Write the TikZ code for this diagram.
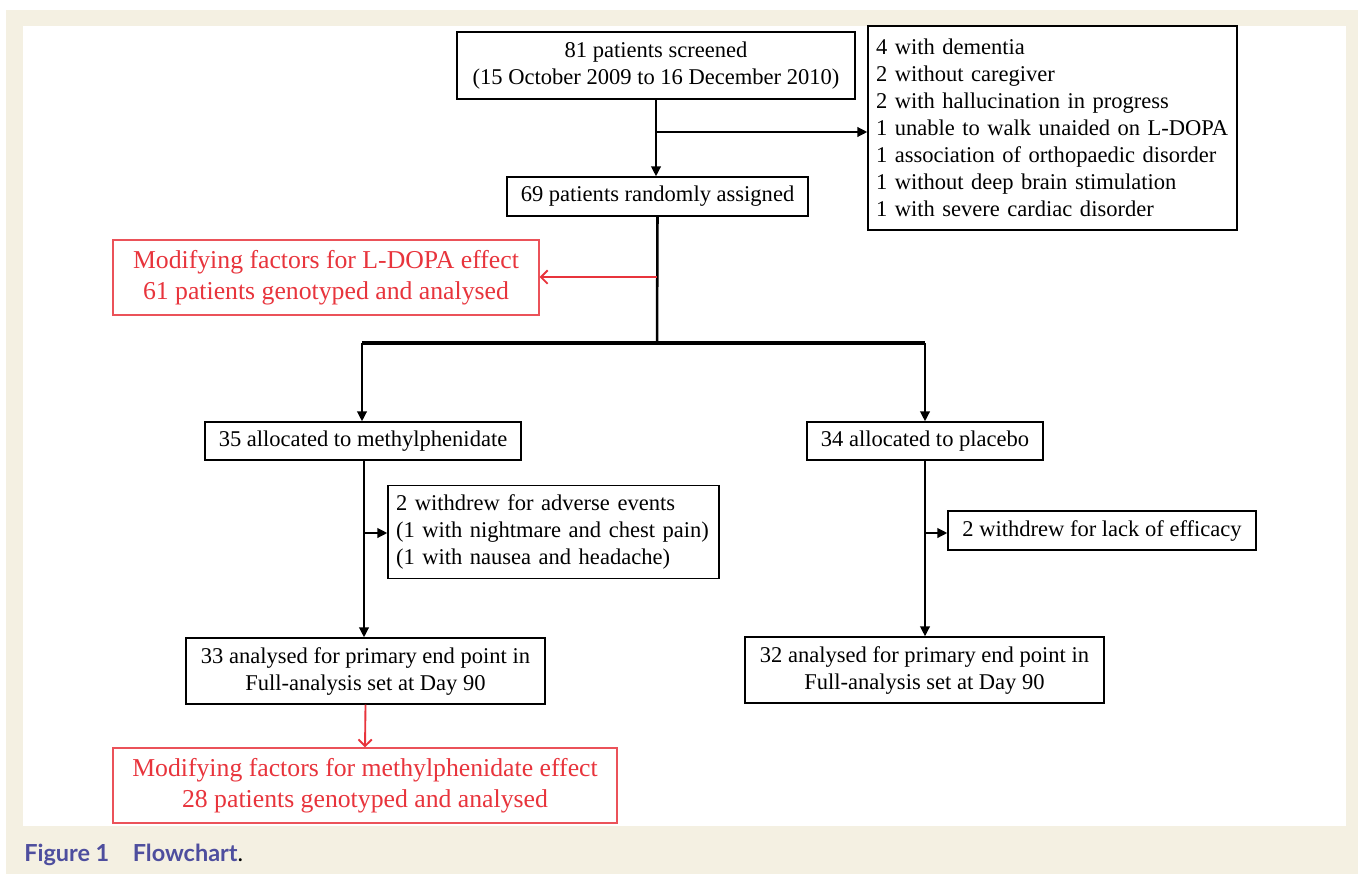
\documentclass[tikz,border=0pt]{standalone}
\usepackage{fontspec}
\setmainfont{Liberation Serif}
\newfontfamily\capfont{Lato}
\usepackage{tikz}
\usetikzlibrary{arrows.meta}
\definecolor{paper}{RGB}{244,240,226}
\definecolor{hlred}{RGB}{232,52,60}
\definecolor{capblue}{RGB}{78,78,158}

\begin{document}
\begin{tikzpicture}[x=0.75pt, y=-0.75pt,
        flowbox/.style={draw, line width=0.9pt, fill=white, align=center, inner sep=0pt, font=\fontsize{16.9}{20.25}\selectfont},
        listbox/.style={flowbox, align=left, inner xsep=6pt},
        redbox/.style={draw=hlred!85, line width=0.9pt, text=hlred, align=center, inner sep=0pt, font=\fontsize{19.3}{23.25}\selectfont},
        flowarrow/.style={line width=1.9pt, -{Triangle[length=7.5pt,width=7pt]}},
        redarrow/.style={hlred, line width=1.4pt, -{Straight Barb[length=5pt,width=10pt]}},
        splitline/.style={line width=2.6pt}]
        \useasboundingbox (0,0) rectangle (1358,874);
        \fill[paper] (6,10) rectangle (1358,874);
        \fill[white] (23,26) rectangle (1346,826);

        \node[flowbox, minimum width=298.5pt, minimum height=50.25pt] (screened) at (656,65.5) {81 patients screened\\(15 October 2009 to 16 December 2010)};
        \node[listbox, text width=264.75pt, minimum height=153pt] (excluded) at (1052.5,128) {4 with dementia\\2 without caregiver\\2 with hallucination in progress\\1 unable to walk unaided on L-DOPA\\1 association of orthopaedic disorder\\1 without deep brain stimulation\\1 with severe cardiac disorder};
        \node[flowbox, minimum width=225.75pt, minimum height=29.25pt] (randomized) at (657.5,196.5) {69 patients randomly assigned};
        \node[redbox, minimum width=319.5pt, minimum height=56.25pt] (ldopa) at (326,277.5) {Modifying factors for L-DOPA effect\\61 patients genotyped and analysed};
        \node[flowbox, minimum width=237pt, minimum height=28.5pt] (methyl) at (363,441) {35 allocated to methylphenidate};
        \node[flowbox, minimum width=177pt, minimum height=28.5pt] (placebo) at (925,441) {34 allocated to placebo};
        \node[listbox, text width=236.25pt, minimum height=69.75pt] (adverse) at (553.5,532) {2 withdrew for adverse events\\(1 with nightmare and chest pain)\\(1 with nausea and headache)};
        \node[flowbox, minimum width=231pt, minimum height=29.25pt] (lack) at (1102,530.5) {2 withdrew for lack of efficacy};
        \node[flowbox, minimum width=269.25pt, minimum height=49.5pt] (analysedM) at (365.5,671) {33 analysed for primary end point in\\Full-analysis set at Day 90};
        \node[flowbox, minimum width=269.25pt, minimum height=49.5pt] (analysedP) at (924.5,670) {32 analysed for primary end point in\\Full-analysis set at Day 90};
        \node[redbox, minimum width=378pt, minimum height=56.25pt] (methred) at (365,785.5) {Modifying factors for methylphenidate effect\\28 patients genotyped and analysed};
        \node[anchor=base west, inner sep=0pt, text=capblue, font=\capfont\bfseries\fontsize{17.6}{21}\selectfont] (caption) at (24,861) {Figure 1\hspace{1em}Flowchart\textcolor{black}{\mdseries.}};

        \coordinate (exclsplit) at (656,132);
        \coordinate (ldopasplit) at (657,277);
        \coordinate (branch) at (657,343);
        \coordinate (branchL) at (362,343);
        \coordinate (branchR) at (925,343);
        \coordinate (advsplit) at (364,533);
        \coordinate (lacksplit) at (925,533);

        \draw[flowarrow] (screened.south) -- (screened.south |- randomized.north);
        \draw[flowarrow] (exclsplit) -- (exclsplit -| excluded.west);
        \draw[line width=1.9pt] (randomized.south) -- (branch);
        \draw[redarrow] (ldopasplit) -- (ldopasplit -| ldopa.east);
        \draw[splitline] (branchL) -- (branchR);
        \draw[flowarrow] (branchL) -- (branchL |- methyl.north);
        \draw[flowarrow] (branchR) -- (branchR |- placebo.north);
        \draw[flowarrow] (methyl.south -| advsplit) -- (advsplit |- analysedM.north);
        \draw[flowarrow] (advsplit) -- (advsplit -| adverse.west);
        \draw[flowarrow] (placebo.south) -- (placebo.south |- analysedP.north);
        \draw[flowarrow] (lacksplit) -- (lacksplit -| lack.west);
        \draw[redarrow] (analysedM.south) -- (methred.north);
    \end{tikzpicture}
\end{document}
